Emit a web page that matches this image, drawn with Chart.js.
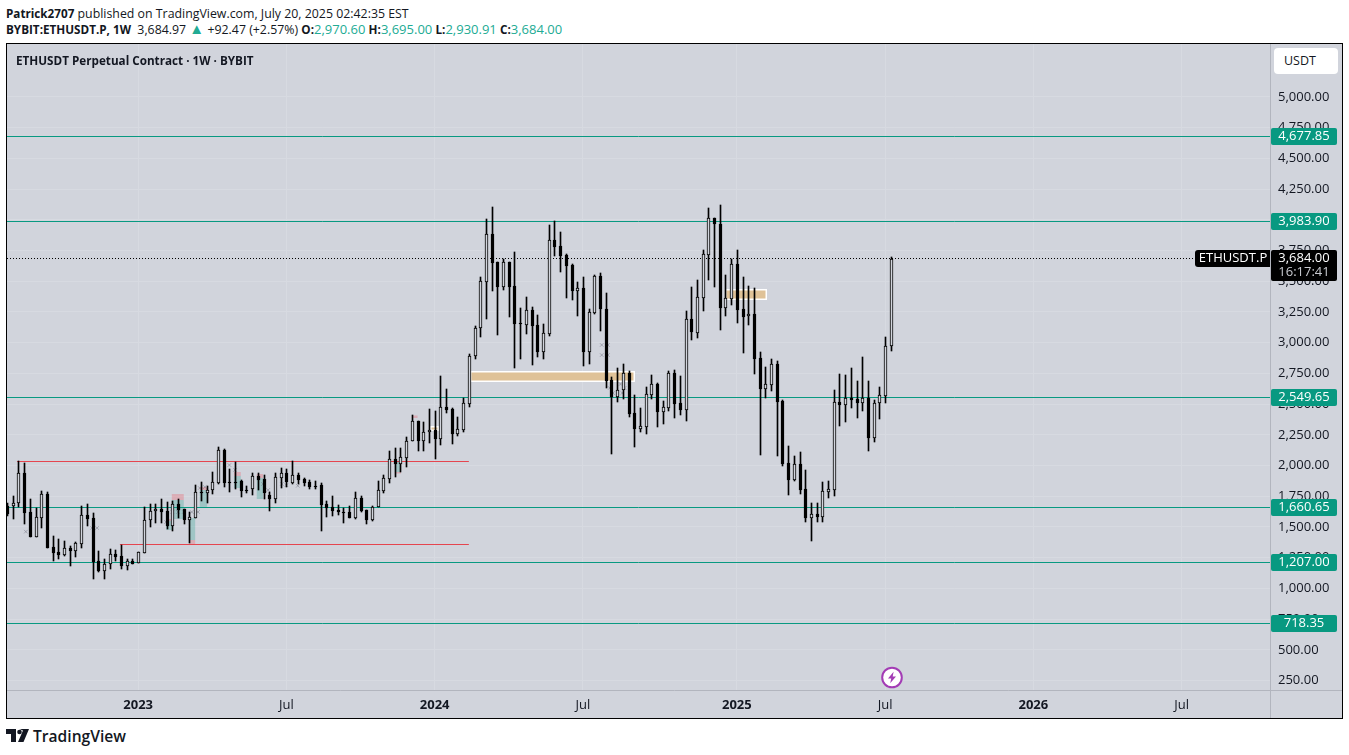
<!DOCTYPE html>
<html>
<head>
<meta charset="utf-8">
<title>ETHUSDT Perpetual Contract</title>
<script src="https://cdn.jsdelivr.net/npm/chart.js@4/dist/chart.umd.min.js"></script>
<style>
   html, body { margin: 0; padding: 0; background: #fff; width: 1349px; height: 755px; overflow: hidden; }
   body { position: relative; font-family: "Open Sans", sans-serif; color: #131722; }
   .head { position: absolute; left: 6px; font-size: 12.35px; white-space: nowrap; line-height: 16px; }
   .head b { font-weight: 700; font-size: 11.7px; }
   .head i { font-style: normal; color: #22ab94; font-size: 13px; }
   .head span { color: #22ab94; font-size: 15px; line-height: 14px; }
   #frame { position: absolute; left: 6px; top: 43px; width: 1335px; height: 674px; border: 1px solid #000; }
   #chartCanvas { position: absolute; left: 7px; top: 44px; background: #d1d4dc; }
   #title { position: absolute; left: 16px; top: 52px; font-size: 11.7px; font-weight: 700; color: #131722; line-height: 16px; }
   #unit { position: absolute; left: 1274px; top: 48px; width: 64px; height: 26px; background: #fff; border-radius: 4px;
      font-size: 12.5px; line-height: 26px; text-indent: 10px; }
   #logoText { position: absolute; left: 33px; top: 725px; font-size: 15.6px; font-weight: 600; line-height: 22px; color: #131722; }
   svg { position: absolute; }
</style>
</head>
<body>
<div class="head" style="top:5px"><b>Patrick2707</b> published on TradingView.com, July 20, 2025 02:42:35 EST</div>
<div class="head" style="top:21px"><b>BYBIT:ETHUSDT.P, 1W</b> &nbsp;3,684.97 <span>▲</span> +92.47 (+2.57%) <b>O:</b><i>2,970.60</i> <b>H:</b><i>3,695.00</i> <b>L:</b><i>2,930.91</i> <b>C:</b><i>3,684.00</i></div>
<div id="frame"></div>
<canvas id="chartCanvas" width="1335" height="674"></canvas>
<div id="title">ETHUSDT Perpetual Contract · 1W · BYBIT</div>
<div id="unit">USDT</div>
<svg style="left:880px;top:666px" width="24" height="24" viewBox="0 0 24 24">
   <circle cx="12" cy="11.5" r="9.8" fill="#fff" stroke="#a33cb5" stroke-width="2"/>
   <path d="M13.6 5.8 L8 12.6 H11.2 L10.2 17.2 L16 10.4 H12.7 Z" fill="#a33cb5"/>
</svg>
<svg style="left:6px;top:729px" width="24" height="14" viewBox="0 0 24 14">
   <path d="M0 0 H10 V13 H5 V5 H0 Z M13.5 0 H23 L17.5 13 H12 L17 1.5 Z" fill="#131722"/>
   <circle cx="13.5" cy="3" r="2.3" fill="#131722"/>
</svg>
<div id="logoText">TradingView</div>

<script>
// Weekly candles, oldest first
const opens = [
   1671, 1671, 1697, 1937, 1619, 1421, 1575, 1768, 1335, 1296,
   1272, 1329, 1307, 1364, 1597, 1571, 1221, 1144, 1196, 1278,
   1261, 1185, 1223, 1204, 1291, 1554, 1628, 1646, 1630, 1510,
   1687, 1644, 1559, 1573, 1782, 1774, 1799, 1858, 2124, 1870,
   1870, 1874, 1801, 1807, 1915, 1888, 1760, 1725, 1901, 1937,
   1860, 1921, 1888, 1864, 1836, 1842, 1684, 1660, 1636, 1619,
   1619, 1575, 1733, 1636, 1559, 1665, 1793, 1893, 2050, 2012,
   2064, 2197, 2360, 2197, 2270, 2287, 2218, 2474, 2458, 2259,
   2291, 2503, 2889, 3117, 3496, 3882, 3654, 3455, 3654, 3458,
   3157, 3146, 3263, 3141, 2926, 3073, 3833, 3784, 3711, 3629,
   3422, 3442, 2926, 3239, 3540, 3271, 2693, 2555, 2612, 2750,
   2425, 2300, 2316, 2576, 2661, 2438, 2471, 2753, 2506, 2454,
   3190, 3081, 3366, 3715, 4012, 3965, 3284, 3357, 3637, 3271,
   3213, 3231, 2872, 2625, 2658, 2824, 2525, 2018, 1885, 2010,
   1807, 1575, 1603, 1584, 1787, 1803, 2514, 2495, 2552, 2539,
   2511, 2547, 2226, 2506, 2568, 2970.6
];
const highs = [
   1695, 1752, 2034, 2023, 1725, 1654, 1793, 1785, 1427, 1402,
   1386, 1345, 1380, 1671, 1684, 1611, 1302, 1237, 1318, 1313,
   1353, 1237, 1237, 1294, 1660, 1687, 1687, 1725, 1706, 1711,
   1728, 1646, 1622, 1842, 1864, 1834, 1945, 2148, 2135, 1969,
   2029, 1882, 1834, 1937, 1937, 1923, 1787, 1942, 1977, 1969,
   2034, 1942, 1896, 1882, 1876, 1855, 1711, 1752, 1676, 1652,
   1671, 1784, 1752, 1638, 1671, 1872, 1921, 2121, 2140, 2140,
   2230, 2409, 2360, 2352, 2458, 2441, 2726, 2620, 2466, 2392,
   2547, 2905, 3133, 3532, 4004, 4101, 3654, 3678, 3654, 3735,
   3279, 3369, 3287, 3222, 3149, 3957, 3990, 3898, 3721, 3637,
   3491, 3532, 3271, 3550, 3564, 3401, 2723, 2791, 2824, 2767,
   2571, 2466, 2639, 2734, 2672, 2525, 2769, 2777, 2726, 3255,
   3450, 3510, 3751, 4093, 4012, 4117, 3548, 3678, 3751, 3532,
   3457, 3442, 2921, 2804, 2864, 2848, 2533, 2159, 2077, 2108,
   1964, 1693, 1693, 1864, 1872, 2612, 2742, 2734, 2791, 2685,
   2881, 2685, 2531, 2636, 3043, 3695
];
const lows = [
   1589, 1567, 1660, 1524, 1421, 1421, 1494, 1331, 1226, 1242,
   1264, 1182, 1258, 1331, 1508, 1079, 1136, 1079, 1160, 1226,
   1160, 1152, 1196, 1204, 1291, 1502, 1530, 1530, 1486, 1470,
   1571, 1522, 1372, 1573, 1714, 1693, 1768, 1850, 1823, 1787,
   1807, 1746, 1774, 1763, 1801, 1725, 1632, 1698, 1819, 1823,
   1850, 1850, 1836, 1807, 1807, 1470, 1581, 1589, 1595, 1535,
   1575, 1567, 1624, 1527, 1551, 1665, 1774, 1856, 1909, 1950,
   1990, 2197, 2121, 2121, 2186, 2056, 2169, 2425, 2178, 2243,
   2275, 2479, 2869, 3048, 3195, 3423, 3065, 3431, 3211, 2796,
   2869, 3072, 2820, 2885, 2869, 3056, 3707, 3577, 3366, 3347,
   3219, 2812, 2829, 3236, 3097, 2628, 2096, 2519, 2544, 2397,
   2153, 2275, 2259, 2544, 2316, 2340, 2446, 2389, 2414, 2365,
   3024, 3040, 3260, 3512, 3455, 3105, 3219, 3309, 3162, 2918,
   3146, 2745, 2088, 2552, 2609, 2080, 1999, 1763, 1876, 1771,
   1543, 1388, 1543, 1543, 1738, 1754, 2324, 2357, 2471, 2389,
   2446, 2121, 2194, 2381, 2511, 2930.91
];
const closes = [
   1606, 1697, 1937, 1616, 1421, 1579, 1768, 1331, 1291, 1272,
   1326, 1307, 1367, 1595, 1567, 1218, 1144, 1196, 1278, 1258,
   1185, 1221, 1201, 1294, 1554, 1628, 1646, 1622, 1508, 1684,
   1638, 1557, 1579, 1782, 1776, 1799, 1864, 2124, 1860, 1866,
   1866, 1793, 1796, 1915, 1882, 1779, 1725, 1904, 1937, 1864,
   1921, 1882, 1860, 1823, 1828, 1681, 1657, 1630, 1619, 1614,
   1575, 1733, 1632, 1559, 1665, 1799, 1896, 2050, 2012, 2067,
   2197, 2360, 2197, 2270, 2287, 2218, 2474, 2452, 2259, 2295,
   2506, 2889, 3117, 3499, 3882, 3650, 3455, 3654, 3455, 3154,
   3152, 3263, 3138, 2926, 3076, 3833, 3781, 3707, 3626, 3422,
   3442, 2926, 3247, 3540, 3271, 2690, 2554, 2612, 2750, 2422,
   2300, 2319, 2580, 2661, 2438, 2474, 2753, 2503, 2454, 3190,
   3084, 3369, 3719, 4012, 3963, 3284, 3361, 3637, 3268, 3211,
   3231, 2869, 2625, 2661, 2824, 2519, 2015, 1885, 2010, 1803,
   1575, 1603, 1584, 1790, 1807, 2514, 2495, 2552, 2536, 2511,
   2547, 2226, 2506, 2571, 2970, 3684
];

// Axes
const priceTicks = [250, 500, 750, 1000, 1250, 1500, 1750, 2000, 2250, 2500, 2750, 3000, 3250, 3500, 3750, 4000, 4250, 4500, 4750, 5000];
const timeTickWeeks = [23, 49, 75, 101, 128, 154, 180, 206];
const timeTickLabels = ["2023", "Jul", "2024", "Jul", "2025", "Jul", "2026", "Jul"];

// Drawings on the chart
const levelPrices = [4677.85, 3983.9, 2549.65, 1660.65, 1207, 718.35];
const segmentFrom = [1.75, 19.8];
const segmentTo = [81, 81];
const segmentPrice = [2034, 1359];
const lastPrice = 3684;
const lastSymbol = "ETHUSDT.P";
const countdown = "16:17:41";

const zoneFrom = [81.2, 125.9, 74.2];
const zoneTo = [110.1, 133.3, 75.8];
const zoneTop = [2773, 3436, 2322];
const zoneBottom = [2676, 3347, 2281];

const patchFrom = [27.9, 28.9, 32, 33.8, 39.8, 43.8, 68, 71];
const patchTo = [28.9, 31, 33, 35.1, 41, 44.9, 69.1, 72];
const pinkTop = [1565, 1768, 1394, 1825, 1947, 1931, 1947, 2407];
const pinkBottom = [1549, 1719, 1361, 1801, 1915, 1898, 1935, 2387];
const tealTop = [1549, 1719, 1573, 1801, 1915, 1898, 2029, 2387];
const tealBottom = [1475, 1565, 1394, 1663, 1817, 1728, 1947, 2387];

const markWeeks = [3.3, 14.9, 15.8, 27.9, 29, 30, 31, 32.4, 33.5, 33.8, 34.7, 39, 40, 44.9, 45.8, 48.2, 49, 51, 104.3, 105.4, 104.3, 105.4, 105.7, 106.3, 107.6, 108.3, 107.9];
const markPrices = [1462, 1492, 1492, 1540, 1622, 1622, 1622, 1622, 1622, 1817, 1825, 2004, 1964, 1850, 1801, 1850, 1840, 1835, 2981, 2981, 2899, 2899, 2631, 2590, 2663, 2631, 2590];

const bgColor = "#d1d4dc";
const axisLine = "#b2b5be";
const textColor = "#131722";
const teal = "#089981";
const xMax = 221.5;
const tickFontFamily = '"Open Sans", sans-serif';

function formatPrice(paramValue) {
   return paramValue.toLocaleString("en-US", { minimumFractionDigits: 2, maximumFractionDigits: 2 });
}

// Tick labels must not push the plot area in from the canvas edges
function clearAxisPadding(paramAxis) {
   paramAxis.paddingTop = 0;
   paramAxis.paddingBottom = 0;
   paramAxis.paddingLeft = 0;
   paramAxis.paddingRight = 0;
}

// Put the marks on whole pixels so that wicks stay 1px and crisp
const snapPlugin = {
   id: "snap",
   beforeDatasetsDraw(chart) {
      chart.data.datasets.forEach((ds, i) => {
         const meta = chart.getDatasetMeta(i);
         if (ds.type === "bar") {
            meta.data.forEach((el) => {
               el.x = Math.round(el.x) + 0.5;
               const top = Math.round(Math.min(el.y, el.base));
               const bottom = Math.round(Math.max(el.y, el.base));
               el.y = top;
               el.base = Math.max(bottom, top + (ds.minHeight || 1));
               el.height = el.base - el.y;
            });
         } else if (ds.type === "line") {
            meta.data.forEach((el) => {
               el.y = Math.floor(el.y) + 0.5;
            });
         }
      });
   },
};

// Zones and shaded patches stay behind the candles
const zonePlugin = {
   id: "zones",
   beforeDatasetsDraw(chart) {
      const c = chart.ctx;
      const x = chart.scales.x;
      const y = chart.scales.y;
      c.save();
      patchFrom.forEach((item, i) => {
         const left = x.getPixelForValue(patchFrom[i]);
         const width = x.getPixelForValue(patchTo[i]) - left;
         c.fillStyle = "rgba(242,54,69,0.25)";
         c.fillRect(left, y.getPixelForValue(pinkTop[i]), width, y.getPixelForValue(pinkBottom[i]) - y.getPixelForValue(pinkTop[i]));
         c.fillStyle = "rgba(8,153,129,0.25)";
         c.fillRect(left, y.getPixelForValue(tealTop[i]), width, y.getPixelForValue(tealBottom[i]) - y.getPixelForValue(tealTop[i]));
      });
      zoneFrom.forEach((item, i) => {
         const left = Math.round(x.getPixelForValue(zoneFrom[i]));
         const right = Math.round(x.getPixelForValue(zoneTo[i]));
         const top = Math.round(y.getPixelForValue(zoneTop[i]));
         const bottom = Math.round(y.getPixelForValue(zoneBottom[i]));
         c.fillStyle = "#ffffff";
         c.fillRect(left, top, right - left, bottom - top);
         c.fillStyle = "#dfc298";
         c.fillRect(left + 1.5, top + 1.5, right - left - 3, bottom - top - 3);
      });
      c.restore();
   },
};

// Axis separators and the coloured price labels sit on top of everything
const labelPlugin = {
   id: "priceLabels",
   afterDraw(chart) {
      const c = chart.ctx;
      const area = chart.chartArea;
      const y = chart.scales.y;
      const left = area.right + 1;
      const width = 66;
      c.save();
      c.strokeStyle = axisLine;
      c.lineWidth = 1;
      c.beginPath();
      c.moveTo(area.right + 0.5, 0);
      c.lineTo(area.right + 0.5, chart.height);
      c.moveTo(0, area.bottom + 0.5);
      c.lineTo(chart.width, area.bottom + 0.5);
      c.stroke();

      c.textBaseline = "middle";
      c.font = "13px " + tickFontFamily;
      levelPrices.forEach((item) => {
         const py = Math.floor(y.getPixelForValue(item)) + 0.5;
         c.fillStyle = teal;
         c.beginPath();
         c.roundRect(left, py - 8.5, width, 17, 2);
         c.fill();
         c.fillStyle = "#ffffff";
         c.textAlign = "center";
         c.fillText(formatPrice(item), left + width / 2, py);
      });

      const lastY = Math.floor(y.getPixelForValue(lastPrice)) + 0.5;
      c.fillStyle = "#000000";
      c.beginPath();
      c.roundRect(left, lastY - 8.5, width, 31, 2);
      c.fill();
      c.beginPath();
      c.roundRect(left - 76, lastY - 8.5, 75, 17, [3, 0, 0, 3]);
      c.fill();
      c.fillStyle = "#ffffff";
      c.textAlign = "center";
      c.fillText(formatPrice(lastPrice), left + width / 2, lastY);
      c.fillText(lastSymbol, left - 38, lastY);
      c.fillStyle = "#c8cad0";
      c.fillText(countdown, left + width / 2, lastY + 14);
      c.restore();
   },
};

const weeks = opens.map((item, i) => i);

new Chart(document.getElementById("chartCanvas").getContext("2d"), {
   type: "bar",
   plugins: [snapPlugin, zonePlugin, labelPlugin],
   data: {
      datasets: [
         {
            type: "bar",
            order: 2,
            barThickness: 1,
            grouped: false,
            backgroundColor: "#000000",
            borderWidth: 0,
            data: weeks.map((i) => ({ x: i, y: [lows[i], highs[i]] })),
         },
         {
            type: "bar",
            order: 1,
            barThickness: 3,
            grouped: false,
            minHeight: 1,
            backgroundColor: weeks.map((i) => (closes[i] > opens[i] ? bgColor : "#000000")),
            borderColor: "#000000",
            borderWidth: 1,
            borderSkipped: false,
            data: weeks.map((i) => ({ x: i, y: [opens[i], closes[i]] })),
         },
         {
            type: "scatter",
            order: 2,
            pointStyle: "crossRot",
            pointRadius: 2.5,
            pointBorderWidth: 1,
            pointBorderColor: "rgba(105,105,120,0.45)",
            data: markWeeks.map((item, i) => ({ x: item, y: markPrices[i] })),
         },
         ...levelPrices.map((item) => ({
            type: "line",
            order: 3,
            borderColor: teal,
            borderWidth: 1,
            pointRadius: 0,
            data: [{ x: 0, y: item }, { x: xMax, y: item }],
         })),
         ...segmentPrice.map((item, i) => ({
            type: "line",
            order: 3,
            borderColor: "#e5454f",
            borderWidth: 1,
            pointRadius: 0,
            data: [{ x: segmentFrom[i], y: item }, { x: segmentTo[i], y: item }],
         })),
         {
            type: "line",
            order: 3,
            borderColor: "#000000",
            borderWidth: 1,
            borderDash: [1, 2],
            pointRadius: 0,
            data: [{ x: 0, y: lastPrice }, { x: xMax, y: lastPrice }],
         },
      ],
   },
   options: {
      responsive: false,
      animation: false,
      events: [],
      layout: { padding: 0, autoPadding: false },
      plugins: { legend: { display: false }, tooltip: { enabled: false } },
      scales: {
         x: {
            type: "linear",
            min: 0,
            max: xMax,
            offset: false,
            afterFit(axis) {
               axis.height = 28;
               clearAxisPadding(axis);
            },
            afterBuildTicks(axis) {
               axis.ticks = timeTickWeeks.map((item) => ({ value: item }));
            },
            border: { display: false },
            grid: { offset: false, color: "#d7dae1", drawTicks: false },
            ticks: {
               autoSkip: false,
               maxRotation: 0,
               padding: 7,
               color: textColor,
               font: (ctx) => ({
                  family: tickFontFamily,
                  size: 13,
                  weight: ctx.tick && timeTickLabels[timeTickWeeks.indexOf(ctx.tick.value)] !== "Jul" ? "700" : "400",
               }),
               callback: (value) => timeTickLabels[timeTickWeeks.indexOf(value)],
            },
         },
         y: {
            type: "linear",
            position: "right",
            min: 173.5,
            max: 5430,
            afterFit(axis) {
               axis.width = 72;
               clearAxisPadding(axis);
            },
            afterBuildTicks(axis) {
               axis.ticks = priceTicks.map((item) => ({ value: item }));
            },
            border: { display: false },
            grid: { color: "#d7dae1", drawTicks: false },
            ticks: {
               autoSkip: false,
               padding: 8,
               color: textColor,
               font: { family: tickFontFamily, size: 13 },
               callback: (value) => formatPrice(value),
            },
         },
      },
   },
});
</script>
</body>
</html>
